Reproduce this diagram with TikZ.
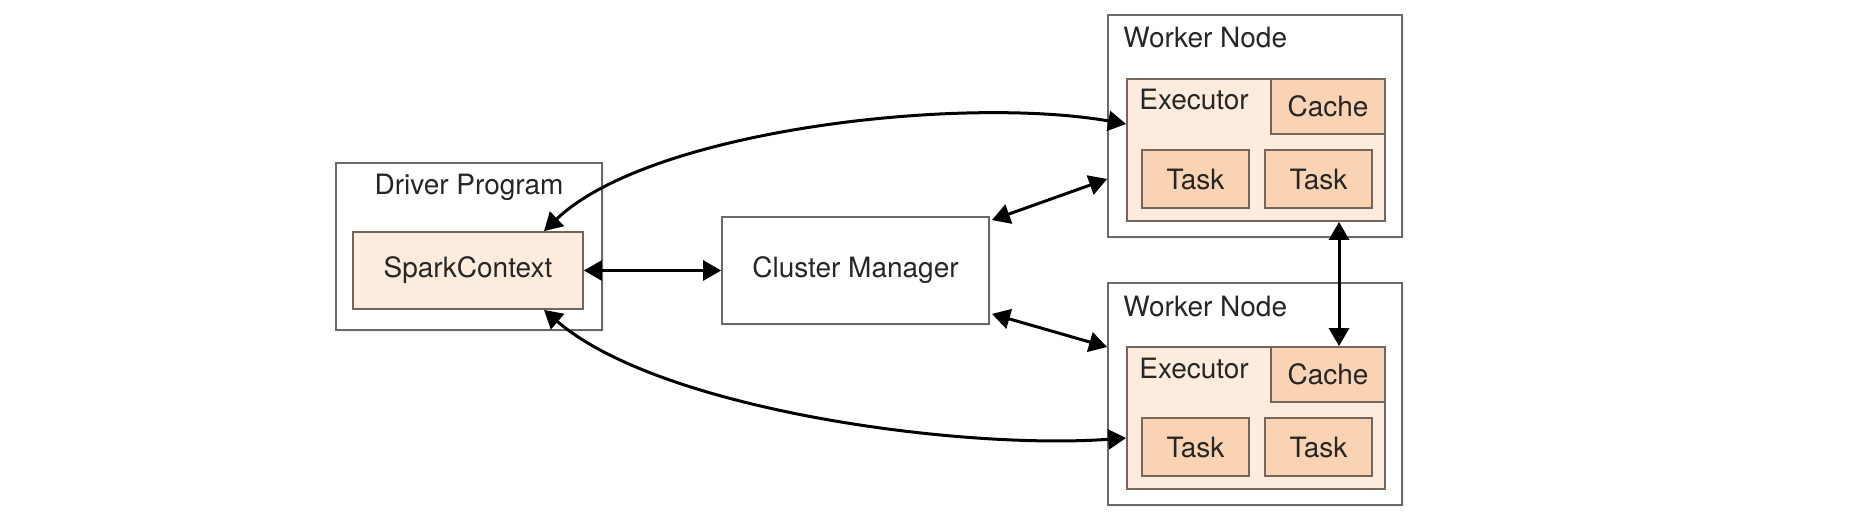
\documentclass[tikz,border=0pt]{standalone}
\usepackage{fontspec}
\setmainfont{TeX Gyre Heros}
\usepackage{tikz}
\usetikzlibrary{arrows.meta,calc,shadows}
\definecolor{exfill}{HTML}{FDEBDE}
\definecolor{tkfill}{HTML}{F9D3B3}
\definecolor{edge}{HTML}{6A6A6A}
\definecolor{pedge}{HTML}{74665C}
\definecolor{txt}{HTML}{262626}
\tikzset{
  px/.style 2 args={minimum width=#1*0.5pt,minimum height=#2*0.5pt},
  box/.style={draw=edge,fill=white,line width=0.9pt,inner sep=0pt,
    drop shadow={opacity=0.12,shadow xshift=0.8pt,shadow yshift=-0.8pt}},
  exb/.style={draw=pedge,fill=exfill,line width=0.9pt,inner sep=0pt},
  tkb/.style={draw=pedge,fill=tkfill,line width=0.9pt,inner sep=0pt},
  lbl/.style={inner sep=0pt},
  arr/.style={line width=1.5pt,{Triangle[length=9pt,width=10pt]}-{Triangle[length=9pt,width=10pt]}}
}

\begin{document}
\begin{tikzpicture}[x=0.5pt,y=-0.5pt,every node/.append style={font=\fontsize{14}{16}\selectfont,text=txt}]
\useasboundingbox (0,0) rectangle (1866,520);
% driver side
\node[box,px={266}{167}] (dp) at (469,246.5) {};
\node[lbl] (dpl) at (469,187) {Driver Program};
\node[exb,px={230}{77}] (sc) at (468,270.5) {SparkContext};
\node[box,px={267}{107}] (cm) at (855.5,270.5) {Cluster Manager};
% the two workers
\foreach \i/\dy in {1/0,2/268}{
  \node[box,px={294}{222}] (w\i) at (1255,126+\dy) {};
  \node[lbl,anchor=west] (wl\i) at (1123,38+\dy) {Worker Node};
  \node[exb,px={258}{142}] (e\i) at (1256,150+\dy) {};
  \node[lbl,anchor=west] (el\i) at (1139,100+\dy) {Executor};
  \node[tkb,px={114}{55}] (c\i) at (1328,106.5+\dy) {Cache};
  \node[tkb,px={107}{58}] (ta\i) at (1195.5,179+\dy) {Task};
  \node[tkb,px={107}{58}] (tb\i) at (1318.5,179+\dy) {Task};
}
% connectors
\draw[arr] (sc.east) -- (cm.west);
\draw[arr] ($(sc.north)+(76,0)$) .. controls (650,130) and (960,95) .. ($(e1.west)+(0,-26)$);
\draw[arr] ($(sc.south)+(76,0)$) .. controls (660,410) and (960,450) .. ($(e2.west)+(0,20)$);
\draw[arr] ($(cm.north east)+(2,4)$) -- ($(w1.west)+(0,53)$);
\draw[arr] ($(cm.south east)+(2,-11)$) -- ($(w2.west)+(0,-47)$);
\coordinate (v) at (1339,0);
\draw[arr] (e1.south -| v) -- (c2.north -| v);
\end{tikzpicture}
\end{document}
